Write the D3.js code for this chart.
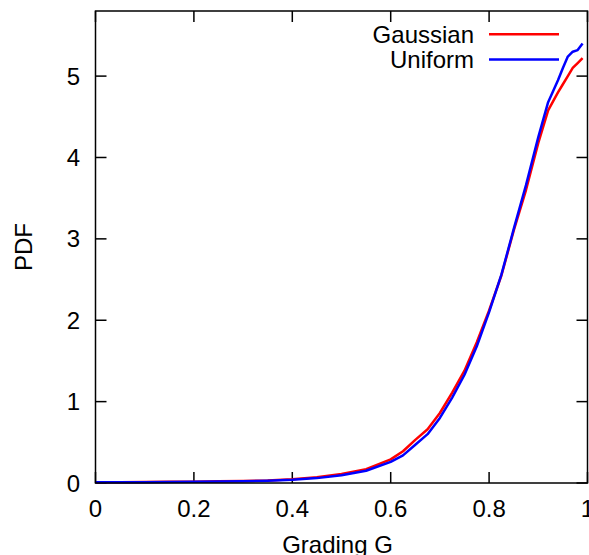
<!DOCTYPE html>
<html>
<head>
<meta charset="utf-8">
<script src="https://cdn.jsdelivr.net/npm/d3@7"></script>
<style>
  html, body { margin: 0; padding: 0; background: #fff; overflow: hidden; }
  svg { display: block; font-family: "Liberation Sans", Arial, sans-serif; }
</style>
</head>
<body>
<div id="chart"></div>
<script>
// grading values (x) and PDF for both distributions
const grading = [0, 0.05, 0.1, 0.15, 0.2, 0.25, 0.3, 0.35, 0.4, 0.45, 0.5, 0.55, 0.6, 0.625, 0.65, 0.675,
  0.7, 0.725, 0.75, 0.775, 0.8, 0.825, 0.85, 0.875, 0.9, 0.92, 0.94, 0.95, 0.96, 0.97, 0.98, 0.99];
const gaussian = [0.01, 0.01, 0.012, 0.014, 0.016, 0.02, 0.025, 0.03, 0.045, 0.07, 0.11, 0.17, 0.29, 0.39, 0.53, 0.66,
  0.86, 1.11, 1.38, 1.73, 2.12, 2.55, 3.1, 3.6, 4.18, 4.58, 4.8, 4.9, 5.0, 5.1, 5.16, 5.22];
const uniform = [0.008, 0.008, 0.01, 0.012, 0.014, 0.018, 0.022, 0.028, 0.04, 0.06, 0.095, 0.15, 0.26, 0.34, 0.47, 0.6,
  0.8, 1.05, 1.33, 1.68, 2.1, 2.56, 3.12, 3.66, 4.25, 4.68, 4.95, 5.1, 5.24, 5.3, 5.32, 5.4];
const xTicks = [0, 0.2, 0.4, 0.6, 0.8, 1];
const yTicks = [0, 1, 2, 3, 4, 5];
const seriesNames = ["Gaussian", "Uniform"];
const seriesColors = ["#ff0000", "#0000ff"];

const width = 589, height = 555;
const margin = { top: 11, right: 1.5, bottom: 72, left: 95.5 };
const fontSize = 24;

const svg = d3.select("#chart").append("svg")
  .attr("width", width)
  .attr("height", height);

const x = d3.scaleLinear().domain([0, 1]).range([margin.left, width - margin.right]);
const y = d3.scaleLinear().domain([0, 5.8]).range([height - margin.bottom, margin.top]);

const tickLen = 11;

// ticks (mirrored on all four sides)
const ticks = svg.append("g").attr("stroke", "#000").attr("stroke-width", 1.5);
xTicks.forEach(t => {
  ticks.append("line").attr("x1", x(t)).attr("x2", x(t))
    .attr("y1", y(0)).attr("y2", y(0) - tickLen);
  ticks.append("line").attr("x1", x(t)).attr("x2", x(t))
    .attr("y1", y.range()[1]).attr("y2", y.range()[1] + tickLen);
});
yTicks.forEach(t => {
  ticks.append("line").attr("x1", x(0)).attr("x2", x(0) + tickLen)
    .attr("y1", y(t)).attr("y2", y(t));
  ticks.append("line").attr("x1", x(1)).attr("x2", x(1) - tickLen)
    .attr("y1", y(t)).attr("y2", y(t));
});

// tick labels
svg.append("g").selectAll("text").data(xTicks).join("text")
  .attr("x", d => x(d))
  .attr("y", 517)
  .attr("text-anchor", "middle")
  .attr("font-size", fontSize)
  .text(d => d3.format("")(d));

svg.append("g").selectAll("text").data(yTicks).join("text")
  .attr("x", 80)
  .attr("y", d => y(d) + 8.5)
  .attr("text-anchor", "end")
  .attr("font-size", fontSize)
  .text(d => d);

// axis titles
svg.append("text")
  .attr("x", x(0.5) - 4)
  .attr("y", 553)
  .attr("text-anchor", "middle")
  .attr("font-size", fontSize)
  .text("Grading G");

svg.append("text")
  .attr("transform", "translate(32,247) rotate(-90)")
  .attr("text-anchor", "middle")
  .attr("font-size", fontSize)
  .text("PDF");

// curves
const line = d3.line()
  .x((d, i) => x(grading[i]))
  .y(d => y(d));

[gaussian, uniform].forEach((vals, k) => {
  svg.append("path")
    .datum(vals)
    .attr("fill", "none")
    .attr("stroke", seriesColors[k])
    .attr("stroke-width", 2.5)
    .attr("stroke-linejoin", "round")
    .attr("d", line);
});

// legend
const legendY = [34.3, 59.5];
seriesNames.forEach((name, k) => {
  svg.append("text")
    .attr("x", 474)
    .attr("y", legendY[k] + 8.5)
    .attr("text-anchor", "end")
    .attr("font-size", fontSize)
    .text(name);
  svg.append("line")
    .attr("x1", 489).attr("x2", 559)
    .attr("y1", legendY[k]).attr("y2", legendY[k])
    .attr("stroke", seriesColors[k])
    .attr("stroke-width", 2.5);
});

// frame
svg.append("rect")
  .attr("x", x(0))
  .attr("y", y.range()[1])
  .attr("width", x(1) - x(0))
  .attr("height", y(0) - y.range()[1])
  .attr("fill", "none")
  .attr("stroke", "#000")
  .attr("stroke-width", 1.5);
</script>
</body>
</html>
